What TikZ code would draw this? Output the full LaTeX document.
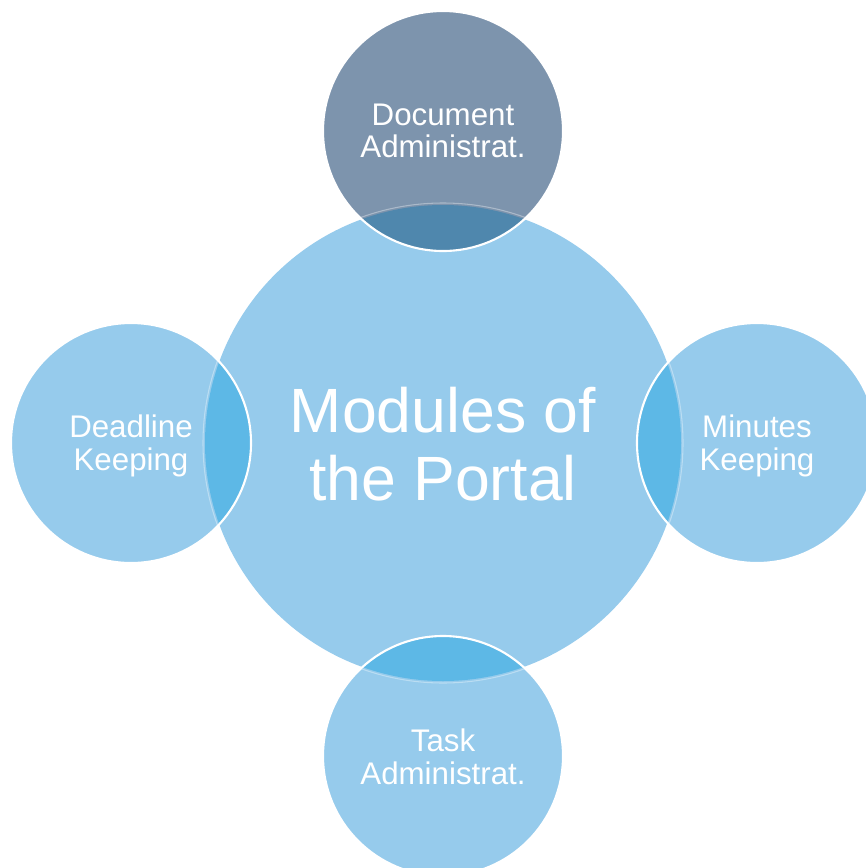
\documentclass[tikz,border=0pt]{standalone}
\usepackage{fontspec}
\setmainfont{Liberation Sans}
\usepackage{xcolor}
\definecolor{modblue}{HTML}{96CBEC}
\definecolor{lensblue}{HTML}{5DB8E6}
\definecolor{docgray}{HTML}{7D94AD}
\definecolor{doclens}{HTML}{4F87AD}

\begin{document}
\begin{tikzpicture}[x=0.1mm,y=-0.1mm,
    module/.style={circle,fill=modblue,minimum size=24mm,inner sep=0pt,
      text=white,align=center,font=\fontsize{8.9}{9.3}\selectfont},
    rim/.style={draw=white,line width=0.6pt}]
  \useasboundingbox (0,0) rectangle (866,868);

  % hub and the four modules around it
  \node[circle,fill=modblue,minimum size=47.6mm,inner sep=0pt] (hub) at (443,443) {};
  \node[module,fill=docgray] (doc) at (443,131) {};
  \node[module] (dead) at (131,443) {};
  \node[module] (mins) at (757,443) {};
  \node[module] (task) at (443,756) {};

  % overlaps with the hub
  \begin{scope}
    \clip (hub.center) circle[radius=23.8mm];
    \fill[doclens] (doc.center) circle[radius=12mm];
    \fill[lensblue] (dead.center) circle[radius=12mm];
    \fill[lensblue] (mins.center) circle[radius=12mm];
    \fill[lensblue] (task.center) circle[radius=12mm];
  \end{scope}
  \draw[white,opacity=0.35,line width=0.3pt] (hub.center) circle[radius=24mm];
  \foreach \m in {doc,dead,mins,task}
    \draw[rim] (\m.center) circle[radius=12mm];

  % labels
  \node[text=white,align=center,font=\fontsize{17.8}{19.4}\selectfont] (title)
    at (443,444) {Modules of\\the Portal};
  \node[module,fill=none] (docl) at (doc.center) {Document\\Administrat.};
  \node[module,fill=none] (deadl) at (131,446) {Deadline\\Keeping};
  \node[module,fill=none] (minsl) at (757,446) {Minutes\\Keeping};
  \node[module,fill=none] (taskl) at (443,757) {Task\\Administrat.};
\end{tikzpicture}
\end{document}
